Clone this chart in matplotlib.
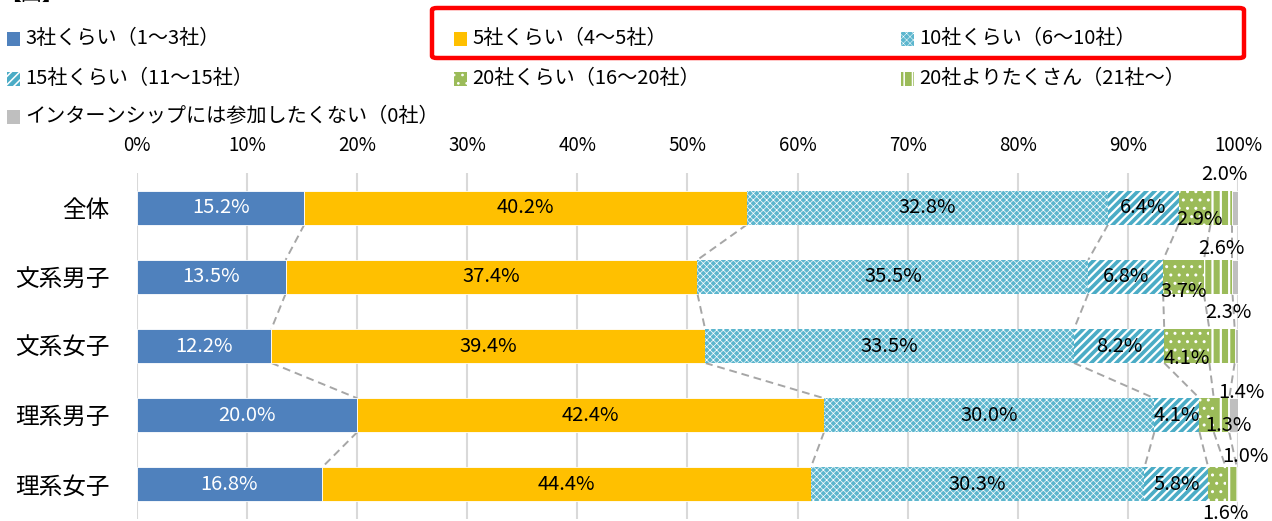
import matplotlib
matplotlib.use("Agg")
import matplotlib.pyplot as plt
from matplotlib.patches import Rectangle, FancyBboxPatch
import numpy as np

plt.rcParams['font.family'] = ['Noto Sans CJK JP', 'DejaVu Sans']

# data
groups = ['全体', '文系男子', '文系女子', '理系男子', '理系女子']
series = ['3社くらい（1～3社）', '5社くらい（4～5社）', '10社くらい（6～10社）',
          '15社くらい（11～15社）', '20社くらい（16～20社）', '20社よりたくさん（21社～）',
          'インターンシップには参加したくない（0社）']
s_3 = [15.2, 13.5, 12.2, 20.0, 16.8]
s_5 = [40.2, 37.4, 39.4, 42.4, 44.4]
s_10 = [32.8, 35.5, 33.5, 30.0, 30.3]
s_15 = [6.4, 6.8, 8.2, 4.1, 5.8]
s_20 = [2.9, 3.7, 4.1, 1.3, 1.6]
s_21 = [2.0, 2.6, 2.3, 1.4, 1.0]
s_0 = [0.5, 0.5, 0.3, 0.8, 0.1]
values = [s_3, s_5, s_10, s_15, s_20, s_21, s_0]

# styles: (facecolor, hatch, hatch linewidth)
styles = [
    ('#4F81BD', None, 0),
    ('#FFC000', None, 0),
    ('#5CB6CE', 'xxxxx', 0.5),
    ('#4BACC6', '////', 1.6),
    ('#9BBB59', '..', 1.0),
    ('#9BBB59', '||', 1.6),
    ('#BFBFBF', None, 0),
]

W, H = 1272, 521
fig = plt.figure(figsize=(W / 100, H / 100), dpi=100)


def fx(x):
    return x / W


def fy(y):
    return 1 - y / H


ax = fig.add_axes([fx(137), fy(519), fx(1238) - fx(137), fy(173) - fy(519)])

y = np.arange(len(groups))
left = np.zeros(len(groups))
bar_h = 0.49
for i, vals in enumerate(values):
    fc, hatch, hlw = styles[i]
    if hatch:
        bars = ax.barh(y, vals, left=left, height=bar_h, color=fc, edgecolor='white',
                       linewidth=0, hatch=hatch, zorder=3)
        for b in bars:
            try:
                b.set_hatch_linewidth(hlw)
            except AttributeError:
                pass
    else:
        ax.barh(y, vals, left=left, height=bar_h, color=fc, edgecolor='white',
                linewidth=0.6, zorder=3)
    left = left + np.array(vals)

# series lines
cum = np.cumsum(np.array(values), axis=0)
for k in range(6):
    for j in range(len(groups) - 1):
        ax.plot([cum[k][j], cum[k][j + 1]], [y[j] + bar_h / 2, y[j + 1] - bar_h / 2],
                ls=(0, (4, 2.5)), color='#A6A6A6', lw=1.4, zorder=2)

# labels
starts = cum - np.array(values)
for k in range(4):
    for j in range(len(groups)):
        v = values[k][j]
        ax.text(starts[k][j] + v / 2, y[j], f'{v:.1f}%', ha='center', va='center',
                fontsize=14.5, color='white' if k == 0 else 'black', zorder=5)

green_off = [(5, 12), (0, 15), (0, 13), (22, 10), (8, 29)]
vert_off = [(3, -33), (3, -28), (6, -34), (20, -23), (14, -28)]
for k, offs in ((4, green_off), (5, vert_off)):
    for j in range(len(groups)):
        v = values[k][j]
        dx, dy = offs[j]
        ax.annotate(f'{v:.1f}%', (starts[k][j] + v / 2, y[j]), xytext=(dx, -dy),
                    textcoords='offset pixels', ha='center', va='center',
                    fontsize=14.5, color='black', zorder=6, annotation_clip=False)

ax.set_xlim(0, 100)
ax.set_ylim(len(groups) - 0.5, -0.5)
ax.set_xticks(np.arange(0, 101, 10))
ax.set_xticklabels([f'{t}%' for t in range(0, 101, 10)], fontsize=13.5)
ax.xaxis.tick_top()
ax.tick_params(axis='x', length=0, pad=12)
ax.set_yticks(y)
ax.set_yticklabels(groups, fontsize=17)
ax.tick_params(axis='y', length=0, pad=20)
ax.grid(axis='x', color='#D9D9D9', lw=1.5, zorder=0)
ax.set_axisbelow(True)
for s in ax.spines.values():
    s.set_visible(False)

# legend drawn by hand
legend_pos = [(7, 39), (454, 39), (901, 39), (7, 79), (454, 79), (901, 79), (7, 117)]
for i, name in enumerate(series):
    fc, hatch, hlw = styles[i]
    mx, my = legend_pos[i]
    r = Rectangle((fx(mx), fy(my + 6.5)), 13 / W, 13 / H, transform=fig.transFigure,
                  facecolor=fc, edgecolor='white', linewidth=0, hatch=hatch)
    if hatch:
        try:
            r.set_hatch_linewidth(hlw * 0.7)
        except AttributeError:
            pass
    fig.add_artist(r)
    fig.text(fx(mx + 18), fy(my), name, ha='left', va='center', fontsize=14.5)

# red highlight box
box = FancyBboxPatch((fx(432), fy(58)), fx(1244) - fx(432), fy(8) - fy(58),
                     boxstyle='round,pad=0,rounding_size=0.004', transform=fig.transFigure,
                     facecolor='none', edgecolor='#FF0000', linewidth=3.2)
fig.add_artist(box)

# cut-off title at top
fig.text(fx(0), fy(-6), '【図】', ha='left', va='center', fontsize=15)

fig.savefig('out.png', dpi=100)
